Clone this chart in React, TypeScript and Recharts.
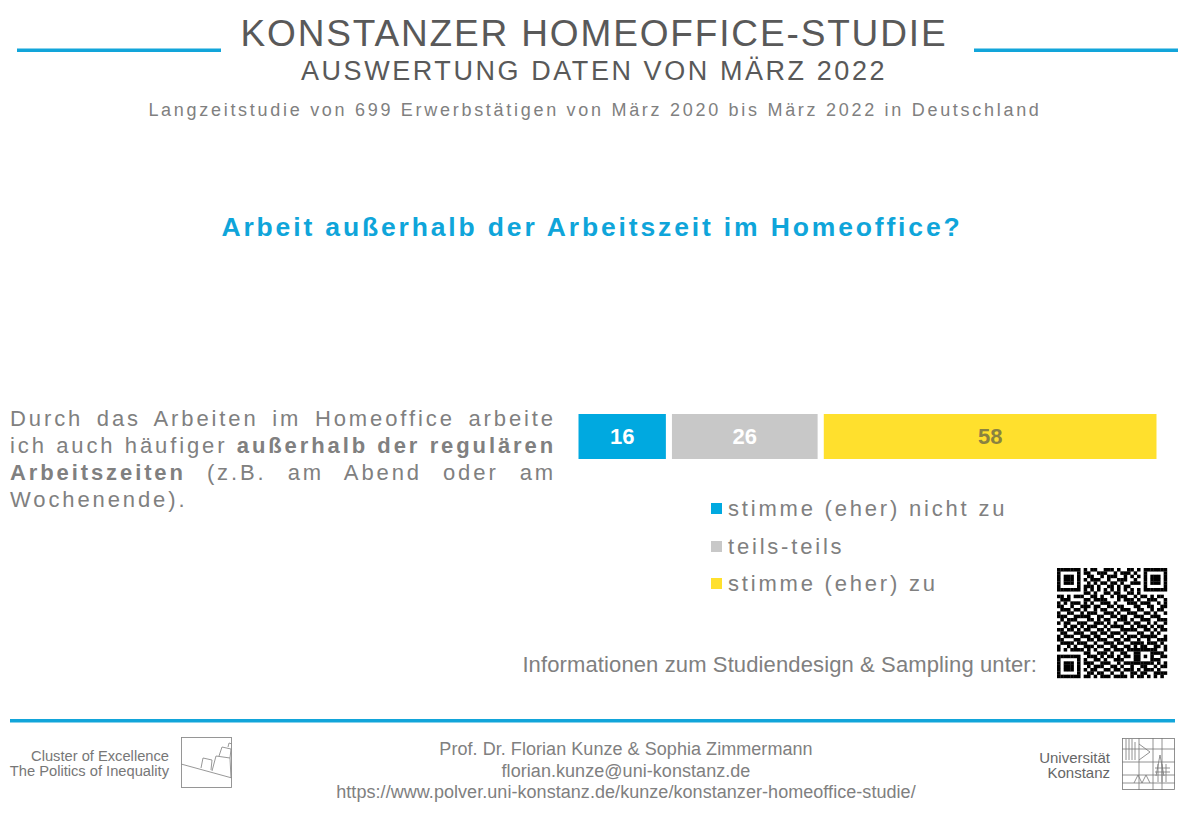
import React from "react";
import { BarChart, Bar, XAxis, YAxis, Legend, LabelList } from "recharts";

const categories = ["Arbeit außerhalb der Arbeitszeit"];
const seriesNames = ["stimme (eher) nicht zu", "teils-teils", "stimme (eher) zu"];
const seriesValues = [16, 26, 58];
const seriesColors = ["#00A9E0", "#C8C8C8", "#FFE02D"];
const labelColors = ["#FFFFFF", "#FFFFFF", "#8A8240"];

const data = categories.map((name) => {
  const row: Record<string, string | number> = { name };
  seriesNames.forEach((s, i) => (row[s] = seriesValues[i]));
  return row;
});

const qrRows = [
  "111111101011001110100110101111111",
  "100000101100111001011101001000001",
  "101110100110010111001010101011101",
  "101110101011100100111001001011101",
  "101110100101011011010011101011101",
  "100000101110100110101100001000001",
  "111111101010101010101010101111111",
  "000000001101001101100110100000000",
  "110101110011010010111001011010110",
  "011100001101111000101110100111001",
  "101011101010011101000111011100101",
  "110010011101100110110001100110011",
  "011101101001011001011100110010110",
  "100110010111001110100111001101001",
  "111001111100110011011001110011100",
  "010111000110101100111010011100111",
  "101100111001110101001101100101001",
  "001011010111001011110010111010110",
  "110110101100110100011111001101011",
  "011001110011011011101000110010100",
  "101110011101100110010111011111001",
  "110001100110111001101100100100111",
  "011110111001001110110011110111010",
  "100101001110110011001101011001101",
  "101011110101001101110111111111001",
  "000000001100111010011001100011110",
  "111111100111010110101101101010011",
  "100000101001101001110001100011100",
  "101110101110011100101111111110101",
  "101110100101110011010010011001011",
  "101110101011001101101110101110100",
  "100000100110110010010011011001111",
  "111111101101011101111010110101010",
];

const FONT = "'Liberation Sans', Arial, sans-serif";
const LINE = "#12A5DA";
const GREY = "#808080";

const paragraph: React.ReactNode[] = [
  "Durch das Arbeiten im Homeoffice arbeite",
  <>ich auch häufiger <b>außerhalb der regulären</b></>,
  <><b>Arbeitszeiten</b> (z.B. am Abend oder am</>,
  "Wochenende).",
];

function QrCode() {
  const m = 110 / qrRows.length;
  return (
    <g transform="translate(1057 568)">
      {qrRows.map((row, y) =>
        row.split("").map((c, x) =>
          c === "1" ? <rect key={x + "-" + y} x={x * m} y={y * m} width={m + 0.2} height={m + 0.2} fill="#000" /> : null
        )
      )}
    </g>
  );
}

function LeftLogo() {
  return (
    <g fill="none" stroke="#8c8c8c" strokeWidth={0.9}>
      <rect x={181.5} y={737.5} width={50} height={50} />
      <path d="M181 764 L232 778" />
      <path d="M201 768 L203 758 L212 760 L211 770" />
      <path d="M212 771 L216 756 L230 758 L231 778" />
      <path d="M219 756 L222 747 L231 749 L230 758" />
      <path d="M228 747 L229 743 L232 744" />
    </g>
  );
}

function UniLogo() {
  return (
    <g fill="none" stroke="#777" strokeWidth={0.8}>
      <rect x={1122.5} y={738.5} width={52} height={51} />
      <path d="M1122 749 H1175 M1122 762 H1175 M1122 775 H1175 M1122 783 H1175 M1139 738 V790 M1153 738 V790 M1162 738 V790" />
      <path d="M1126 739 V760 M1129 739 V760 M1132 739 V760 M1135 742 V760 M1139 744 L1150 752 L1139 760" />
      <path d="M1156 776 L1160 755 L1164 776 M1155 768 H1170 M1155 772 H1170 M1158 764 V782 M1162 764 V782 M1166 764 V782" />
      <path d="M1134 783 L1138 775 L1142 783 L1146 775 L1150 783" />
    </g>
  );
}

function LegendContent({ payload }: any) {
  return (
    <div>
      {(payload || []).map((p: any, i: number) => (
        <div key={p.value} style={{ position: "absolute", left: 0, top: [3, 41, 78][i], height: 24, whiteSpace: "nowrap" }}>
          <span style={{ position: "absolute", left: 0, top: 0, width: 11, height: 11, background: p.color }} />
          <span style={{ position: "absolute", left: 17, top: -7, fontFamily: FONT, fontSize: 22, lineHeight: "26px", letterSpacing: 2.8, color: GREY }}>
            {p.value}
          </span>
        </div>
      ))}
    </div>
  );
}

export default function App() {
  return (
    <div style={{ position: "absolute", left: 0, top: 0, width: 1200, height: 815, background: "#fff", overflow: "hidden" }}>
      <BarChart
        width={1200}
        height={815}
        data={data}
        layout="vertical"
        barCategoryGap={0}
        margin={{ left: 575.5, right: 40.5, top: 411, bottom: 353 }}
        style={{ position: "absolute", left: 0, top: 0 }}
      >
        <XAxis type="number" domain={[0, 100]} hide />
        <YAxis type="category" dataKey="name" hide />
        <Legend
          layout="vertical"
          align="center"
          verticalAlign="middle"
          itemSorter={null}
          content={<LegendContent />}
          wrapperStyle={{ position: "absolute", left: 711, top: 500, width: 320, height: 100 }}
        />
        {seriesNames.map((s, i) => (
          <Bar key={s} dataKey={s} stackId="a" fill={seriesColors[i]} stroke="#fff" strokeWidth={6} isAnimationActive={false}>
            <LabelList
              dataKey={s}
              position="center"
              fill={labelColors[i]}
              style={{ fontFamily: FONT, fontSize: 22, fontWeight: 700 }}
            />
          </Bar>
        ))}
      </BarChart>

      <svg width={1200} height={815} style={{ position: "absolute", left: 0, top: 0, pointerEvents: "none" }} fontFamily={FONT}>
        <rect x={17} y={48.5} width={204} height={3.5} fill={LINE} />
        <rect x={974} y={48.5} width={204} height={3.5} fill={LINE} />
        <rect x={10} y={719} width={1165} height={3.5} fill={LINE} />

        <text x={594} y={46} textAnchor="middle" fontSize={37} letterSpacing={1.85} fill="#595959">KONSTANZER HOMEOFFICE-STUDIE</text>
        <text x={594} y={80} textAnchor="middle" fontSize={27} letterSpacing={2.57} fill="#595959">AUSWERTUNG DATEN VON MÄRZ 2022</text>
        <text x={595} y={116} textAnchor="middle" fontSize={18} letterSpacing={2.71} fill={GREY}>Langzeitstudie von 699 Erwerbstätigen von März 2020 bis März 2022 in Deutschland</text>
        <text x={592} y={236} textAnchor="middle" fontSize={26.5} fontWeight={700} letterSpacing={2.85} fill="#0FA5DA">Arbeit außerhalb der Arbeitszeit im Homeoffice?</text>

        <text x={1037} y={672} textAnchor="end" fontSize={22} letterSpacing={0.12} fill={GREY}>Informationen zum Studiendesign &amp; Sampling unter:</text>
        <QrCode />

        <text x={626} y={755} textAnchor="middle" fontSize={18} letterSpacing={0.05} fill={GREY}>Prof. Dr. Florian Kunze &amp; Sophia Zimmermann</text>
        <text x={626} y={777} textAnchor="middle" fontSize={18} letterSpacing={0.05} fill={GREY}>florian.kunze@uni-konstanz.de</text>
        <text x={626} y={798} textAnchor="middle" fontSize={18} letterSpacing={0.05} fill={GREY}>https://www.polver.uni-konstanz.de/kunze/konstanzer-homeoffice-studie/</text>

        <text x={169} y={761} textAnchor="end" fontSize={14.7} fill="#777">Cluster of Excellence</text>
        <text x={169} y={776} textAnchor="end" fontSize={14.7} fill="#777">The Politics of Inequality</text>
        <LeftLogo />
        <text x={1110} y={763} textAnchor="end" fontSize={15} fill="#666">Universität</text>
        <text x={1110} y={778} textAnchor="end" fontSize={15} fill="#666">Konstanz</text>
        <UniLogo />
      </svg>

      {paragraph.map((line, i) => (
        <div
          key={i}
          style={{
            position: "absolute",
            left: 10,
            top: 405 + i * 27,
            width: 546,
            fontFamily: FONT,
            fontSize: 22,
            lineHeight: "27px",
            letterSpacing: 2.9,
            color: GREY,
            textAlign: "justify",
            textAlignLast: i < 3 ? "justify" : "left",
          }}
        >
          {line}
        </div>
      ))}
    </div>
  );
}
